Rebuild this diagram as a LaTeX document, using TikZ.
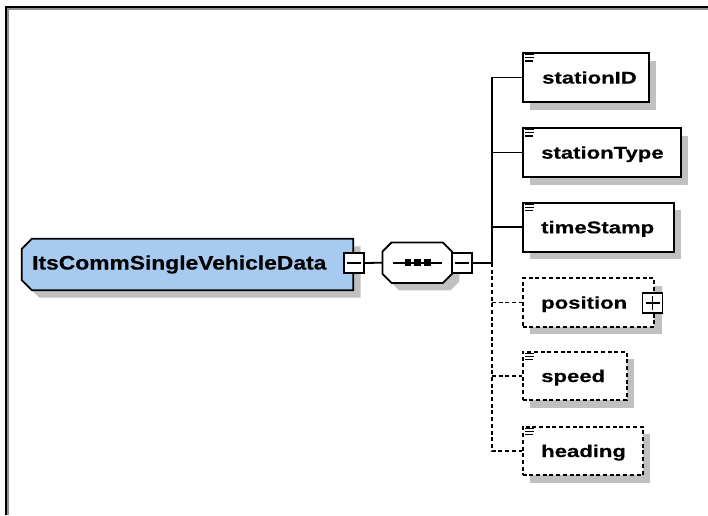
\documentclass[tikz,border=0pt]{standalone}
\usepackage{fontspec}
\setmainfont{Liberation Sans}
\newfontfamily\childfont[FakeStretch=1.3,FakeBold=0.4]{Liberation Sans}
\newfontfamily\rootfont[FakeStretch=1.17,FakeBold=0.4]{Liberation Sans}
\usetikzlibrary{shadows}
\definecolor{skyblue}{HTML}{A6CAF0}
\definecolor{shadowgray}{HTML}{C0C0C0}
\definecolor{framegray}{HTML}{909090}

% three short lines marking an element that carries documentation
\newcommand\docmark[1]{%
  \draw[iconline] ([xshift=3.5pt,yshift=-2.4pt]#1.north west) -- ++(9,0)
                  ([xshift=3.5pt,yshift=-5.6pt]#1.north west) -- ++(9,0)
                  ([xshift=3.5pt,yshift=-8.8pt]#1.north west) -- ++(7.5,0);}

\begin{document}
\begin{tikzpicture}[x=1pt,y=-1pt,
  boxshadow/.style={drop shadow={shadow xshift=7.5pt,shadow yshift=-7.5pt,fill=shadowgray,opacity=1}},
  frame/.style={rectangle, draw=none, inner sep=0pt},
  outline/.style={draw, line width=1.8pt, boxshadow},
  elembox/.style={rectangle, draw, line width=1.8pt, fill=white, inner sep=0pt,
    minimum height=49pt, anchor=west, boxshadow},
  optbox/.style={elembox, dash pattern=on 4pt off 2.7pt},
  toggle/.style={rectangle, draw, fill=white, line width=1.5pt, minimum size=20pt, inner sep=0pt},
  conn/.style={line width=1.8pt},
  optconn/.style={conn, dash pattern=on 4pt off 2.7pt},
  iconline/.style={line width=1.2pt},
  rootlabel/.style={font=\rootfont\bfseries\fontsize{19.5}{22}\selectfont, inner sep=0pt, anchor=base west},
  childlabel/.style={font=\childfont\bfseries\fontsize{17}{20}\selectfont, inner sep=0pt, anchor=base west}
]
\useasboundingbox (0,0) rectangle (708,515);

% window frame
\draw[line width=1.4pt, framegray] (7.8,515) -- (7.8,9) -- (708,9);
\draw[line width=2pt] (6.2,515) -- (6.2,7.3) -- (708,7.3);

% root element: box with the two left corners cut off
\node[frame, minimum width=331pt, minimum height=51pt] (root) at (187.5,264.5) {};
\filldraw[outline, fill=skyblue]
  ([xshift=10pt]root.north west) -- (root.north east) -- (root.south east)
  -- ([xshift=10pt]root.south west) -- ([yshift=10pt]root.south west)
  -- ([yshift=-10pt]root.north west) -- cycle;
\node[rootlabel] (rootT) at (32,269.5) {ItsCommSingleVehicleData};
\node[toggle] (rootTog) at (354,263) {};
\draw[conn] ([xshift=-7pt]rootTog.center) -- ([xshift=7pt]rootTog.center);

% sequence compositor: octagon
\node[frame, minimum width=69pt, minimum height=40pt] (seq) at (417.2,262.7) {};
\filldraw[outline, fill=white]
  ([xshift=9pt]seq.north west) -- ([xshift=-9pt]seq.north east)
  -- ([yshift=-9pt]seq.north east) -- ([yshift=9pt]seq.south east)
  -- ([xshift=-9pt]seq.south east) -- ([xshift=9pt]seq.south west)
  -- ([yshift=9pt]seq.south west) -- ([yshift=-9pt]seq.north west) -- cycle;
\draw[conn] ([xshift=-24pt]seq.center) -- ([xshift=24.5pt]seq.center);
\foreach \dx in {-9.2,0.5,10.2}
  \fill ([xshift=\dx pt]seq.center) +(-3.3,-3.3) rectangle +(3.3,3.3);
\node[toggle] (seqTog) at (462,263) {};
\draw[conn] ([xshift=-7pt]seqTog.center) -- ([xshift=7pt]seqTog.center);

\draw[conn] (rootTog.east) -- (seq.west);
\coordinate (bus) at (492,263);
\draw[conn] (seqTog.east) -- (bus);

% child elements
\node[elembox, minimum width=126.3pt] (sid)   at (521.7,77.5)  {};
\node[elembox, minimum width=158.3pt] (stype) at (521.7,152.5) {};
\node[elembox, minimum width=151pt]   (tst)   at (521.7,227.2) {};
\node[optbox,  minimum width=131.6pt, minimum height=48.4pt] (pos) at (521.7,302.5) {};
\node[optbox,  minimum width=104pt,   minimum height=48.4pt] (spd) at (521.7,375.9) {};
\node[optbox,  minimum width=120pt,   minimum height=48.4pt] (hdg) at (521.7,450.9) {};

\node[childlabel] (sidT)   at (542,83.6)  {stationID};
\node[childlabel] (stypeT) at (541,158.6) {stationType};
\node[childlabel] (tstT)   at (541,233.3) {timeStamp};
\node[childlabel] (posT)   at (541,308.6) {position};
\node[childlabel] (spdT)   at (541,382)   {speed};
\node[childlabel] (hdgT)   at (541,457)   {heading};

\docmark{sid}
\docmark{stype}
\docmark{tst}
\docmark{spd}
\docmark{hdg}

\node[toggle] (posTog) at (652.5,303) {};
\draw[conn] ([xshift=-7pt]posTog.center) -- ([xshift=7pt]posTog.center)
            ([yshift=-7pt]posTog.center) -- ([yshift=7pt]posTog.center);

% branches from the sequence: required ones solid, optional ones dashed
\draw[conn] (bus) |- (sid.west);
\draw[conn] (bus |- stype.west) -- (stype.west);
\draw[conn] (bus |- tst.west) -- (tst.west);
\draw[optconn] (bus) |- (hdg.west);
\draw[optconn] (bus |- pos.west) -- (pos.west);
\draw[optconn] (bus |- spd.west) -- (spd.west);
\end{tikzpicture}
\end{document}
